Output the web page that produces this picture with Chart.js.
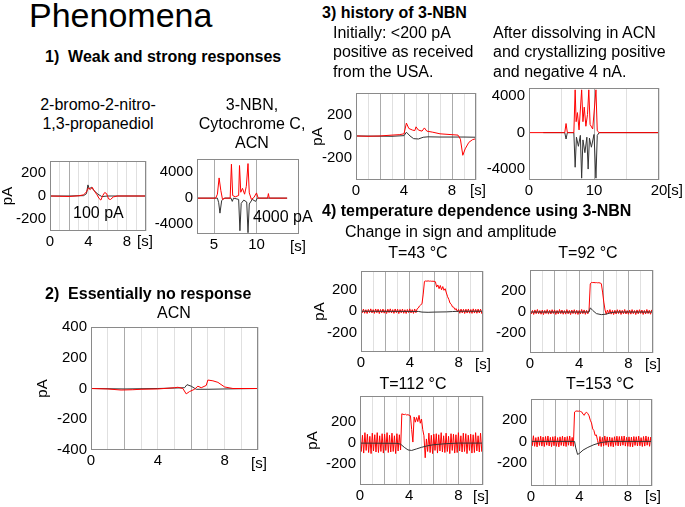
<!DOCTYPE html>
<html>
<head>
<meta charset="utf-8">
<script src="https://cdn.jsdelivr.net/npm/chart.js@4.4.1/dist/chart.umd.min.js"></script>
<style>
body { margin: 0; background: #fff; }
#page { position: relative; width: 685px; height: 507px; overflow: hidden; font-family: "Liberation Sans", Arial, sans-serif; color: #000; background: #fff; }
.t { position: absolute; white-space: pre; line-height: 1; }
.c { position: absolute; }
</style>
</head>
<body>
<div id="page"></div>
<script>
// ---- data ----
// [time s, current pA] pairs
const bromoRed = [[0,0],[1,-2],[2,-4],[3,2],[3.5,10],[3.8,35],[4.0,70],[4.2,55],[4.4,75],[4.6,45],[4.9,10],[5.1,-20],[5.3,-35],[5.5,5],[5.7,30],[5.9,20],[6.1,-25],[6.3,-30],[6.6,-8],[7,0],[10,0]];
const bromoBlack = [[0,0],[2,0],[3.5,3],[3.8,20],[3.95,95],[4.1,60],[4.3,75],[4.6,45],[5.0,15],[5.4,-5],[6,0],[10,0]];

const cytoRed = [[3,0],[5.2,0],[5.4,600],[5.6,3100],[5.8,1200],[6.0,-200],[6.3,0],[6.9,0],[7.05,5200],[7.2,400],[7.5,200],[7.9,400],[8.0,5000],[8.15,900],[8.35,1500],[8.6,600],[8.8,1800],[9.0,5300],[9.15,800],[9.4,-200],[9.7,100],[10.0,800],[10.2,0],[11.3,0],[11.4,700],[11.5,0],[13.6,0]];
const cytoBlack = [[3,0],[5.4,0],[5.55,-700],[5.7,-2300],[5.9,-400],[6.2,0],[7.0,0],[7.15,-500],[7.3,0],[7.9,-200],[8.05,-5000],[8.2,-800],[8.5,-300],[8.85,-600],[9.0,-5300],[9.15,-900],[9.5,-200],[9.9,-500],[10.1,0],[13.6,0]];

const usaRed = [[0,0],[1,-3],[2,0],[3,8],[3.6,12],[4.0,20],[4.2,120],[4.4,70],[4.7,55],[4.9,50],[5.0,85],[5.2,55],[5.5,45],[5.7,75],[5.9,45],[6.4,35],[7,20],[8,12],[8.5,8],[8.7,-30],[8.9,-180],[9.1,-120],[9.4,-60],[9.7,-35],[10,-25]];
const usaBlack = [[0,0],[3,-3],[4.0,3],[4.2,35],[4.5,0],[4.8,-25],[5.2,-28],[5.6,-12],[6,-8],[7,-10],[9,-10],[10,-12]];

const acnRed = [[0,0],[5.5,0],[5.7,1000],[5.9,0],[6.9,0],[7.1,4700],[7.25,1200],[7.45,2200],[7.7,300],[8.1,4700],[8.3,1200],[8.5,2800],[8.75,700],[9.0,2000],[9.2,4700],[9.4,900],[9.8,400],[10.3,4700],[10.5,200],[10.8,0],[20,0]];
const acnBlack = [[2.2,0],[5.5,0],[5.7,-700],[5.9,0],[6.9,0],[7.1,-3800],[7.3,-500],[7.6,-1500],[7.9,-300],[8.1,-5000],[8.3,-800],[8.6,-2200],[8.9,-500],[9.1,-4000],[9.3,-600],[9.6,-1600],[10.0,-200],[10.3,-5000],[10.5,-300],[10.8,0],[20,0]];

const noRespRed = [[0,0],[1,-3],[1.8,-10],[2.5,-8],[3,-5],[4,-3],[5,5],[5.2,8],[5.5,0],[5.7,-35],[5.9,-20],[6.2,-5],[6.4,15],[6.6,5],[6.9,20],[7.0,55],[7.3,50],[7.6,40],[8,10],[8.5,0],[10,0]];
const noRespBlack = [[0,0],[2,-3],[4,0],[5,3],[5.6,5],[5.75,25],[6.0,15],[6.3,-5],[7,-5],[8,-3],[10,0]];

// temperature runs share one time base (s)
const tempTime = [
  0,0.1,0.2,0.3,0.4,0.5,0.6,0.7,0.8,0.9,
  1,1.1,1.2,1.3,1.4,1.5,1.6,1.7,1.8,1.9,
  2,2.1,2.2,2.3,2.4,2.5,2.6,2.7,2.8,2.9,
  3,3.1,3.2,3.3,3.4,3.5,3.6,3.7,3.8,3.9,
  4,4.1,4.2,4.3,4.4,4.5,4.6,4.7,4.8,4.9,
  5,5.1,5.2,5.3,5.4,5.5,5.6,5.7,5.8,5.9,
  6,6.1,6.2,6.3,6.4,6.5,6.6,6.7,6.8,6.9,
  7,7.1,7.2,7.3,7.4,7.5,7.6,7.7,7.8,7.9,
  8,8.1,8.2,8.3,8.4,8.5,8.6,8.7,8.8,8.9,
  9,9.1,9.2,9.3,9.4,9.5,9.6,9.7,9.8,9.9,
  10
];
const t43Red = [
  18,-15,20,-19,14,-21,17,-13,22,-16,
  15,-20,21,-14,19,-22,16,-15,20,-18,
  14,-21,19,-13,22,-16,15,-20,21,-14,
  19,-22,16,-15,20,-19,14,-21,17,-13,
  22,-16,15,-20,21,-14,22,30,50,60,
  70,160,278,282,280,283,280,281,279,280,
  278,275,225,245,210,240,200,230,195,210,
  170,135,110,75,65,40,38,15,25,-5,
  17,-19,20,-16,18,-21,19,-17,21,-18,
  16,-20,22,-17,18,-19,20,-16,19,-21,
  17
];
const t43Black = [[0,0],[4.7,-2],[5,-8],[5.5,-10],[6,-8],[7,-6],[7.5,-3],[8,0],[10,0]];

const t92Red = [
  22,-18,15,-23,20,-16,24,-17,14,-21,
  19,-24,16,-15,23,-20,17,-19,22,-14,
  20,-23,15,-19,24,-16,19,-21,14,-20,
  23,-17,16,-24,19,-15,22,-20,17,-23,
  15,-19,24,-16,20,-22,16,-17,19,268,
  282,280,281,279,280,278,279,276,270,190,
  95,20,-21,19,-16,23,-20,15,-24,17,
  -19,22,-15,20,-23,16,-17,24,-19,14,
  -21,19,-20,23,-16,15,-24,20,-17,22,
  -14,19,-23,16,-19,24,-15,17,-21,20,
  -16
];
const t92Black = [[0,0],[4.8,0],[4.9,40],[5.1,15],[5.4,-15],[5.8,-25],[6.2,-20],[6.6,-5],[7,0],[10,0]];

const t112Red = [
  90,-80,75,-95,100,-70,85,-90,65,-100,
  95,-75,80,-85,100,-90,70,-80,90,-95,
  85,-70,100,-90,75,-85,95,-80,70,-100,
  90,-75,80,-65,280,275,272,276,268,272,
  265,262,130,10,250,200,245,205,265,190,
  230,130,70,-140,40,-80,95,-90,75,-100,
  85,-70,90,-95,80,-75,100,-85,70,-90,
  95,-80,65,-100,90,-70,85,-95,80,-90,
  100,-75,70,-85,95,-80,90,-100,75,-70,
  85,-95,80,-90,100,-75,70,-85,95,-80,
  65
];
const t112Black = [[0,0],[3,-2],[3.3,-10],[3.6,-40],[3.9,-65],[4.2,-70],[4.6,-55],[5,-40],[5.5,-25],[6,-15],[7,-5],[8,0],[10,0]];

const t153Red = [
  45,-40,52,-45,35,-50,42,-37,48,-43,
  40,-47,45,-35,50,-42,37,-48,43,-40,
  47,-45,35,-50,42,-37,48,-43,40,-47,
  45,-35,50,-42,37,-45,270,278,280,277,
  280,275,270,250,240,262,268,255,235,195,
  170,115,100,55,60,10,-40,45,-47,37,
  -43,50,-35,42,-48,40,-45,35,-50,43,
  -37,48,-42,45,-40,47,-35,50,-43,37,
  -45,42,-48,40,-50,45,-37,43,-42,48,
  -40,35,-47,45,-43,50,-35,42,-45,40,
  -48
];
const t153Black = [[0,0],[3.6,0],[3.7,-60],[3.85,-120],[4.0,-110],[4.3,-80],[4.7,-55],[5.2,-30],[5.8,-10],[6.5,0],[10,0]];

// tick values
const pA200Ticks = [-200, 0, 200];
const pA400Ticks = [-400, -200, 0, 200, 400];
const nA4Ticks = [-4000, 0, 4000];
const sec10Grid = [0,1,2,3,4,5,6,7,8,9,10];
const sec10Labels = [0, 4, 8];
const cytoGrid = [5, 10];
const cytoLabels = [5, 10];
const sec20Grid = [0, 5, 10, 15, 20];
const sec20Labels = [0, 10, 20];

// ---- drawing ----
const page = document.getElementById('page');
const FAMILY = "'Liberation Sans', Arial, sans-serif";

function txt(str, x, cy, size, opts = {}) {
    const d = document.createElement('div');
    d.className = 't';
    d.textContent = str;
    d.style.fontSize = size + 'px';
    d.style.top = (cy - size / 2) + 'px';
    d.style.left = x + 'px';
    if (opts.bold) d.style.fontWeight = 'bold';
    if (opts.center) d.style.transform = 'translateX(-50%)';
    page.appendChild(d);
}

const pairs = arr => arr.map(p => ({x: p[0], y: p[1]}));
const onTime = ys => ys.map((y, i) => ({x: tempTime[i], y: y}));

const frame = {
    id: 'frame',
    afterDraw(chart) {
        const {ctx, chartArea: a} = chart;
        ctx.save();
        ctx.strokeStyle = '#8a8a8a';
        ctx.lineWidth = 1;
        ctx.strokeRect(a.left + 0.5, a.top + 0.5, a.right - a.left - 1, a.bottom - a.top - 1);
        ctx.restore();
    }
};

function makeChart(c) {
    const wy = c.wy || 45, padT = 10, padR = 14, hx = 30;
    const [l, t, r, b] = c.box;
    const div = document.createElement('div');
    div.className = 'c';
    div.style.left = (l - wy) + 'px';
    div.style.top = (t - padT) + 'px';
    const canvas = document.createElement('canvas');
    canvas.width = wy + (r - l) + padR;
    canvas.height = padT + (b - t) + hx;
    div.appendChild(canvas);
    page.appendChild(div);

    const font = {size: 15, family: FAMILY};
    const redSet = {data: c.red, borderColor: '#ff0000', borderWidth: 1, pointRadius: 0, tension: 0};
    const blackSet = {data: c.black, borderColor: '#333', borderWidth: 1, pointRadius: 0, tension: 0};

    new Chart(canvas, {
        type: 'line',
        data: {datasets: c.blackTop ? [blackSet, redSet] : [redSet, blackSet]},
        options: {
            responsive: false,
            animation: false,
            events: [],
            layout: {padding: {top: padT, right: padR, left: 0, bottom: 0}},
            plugins: {legend: {display: false}, tooltip: {enabled: false}},
            scales: {
                x: {
                    type: 'linear',
                    min: c.xMin,
                    max: c.xMax,
                    afterBuildTicks: s => { s.ticks = c.xGrid.map(v => ({value: v})); },
                    afterFit: s => { s.height = hx; s.paddingLeft = 0; s.paddingRight = 0; },
                    grid: {
                        drawTicks: false,
                        lineWidth: 1,
                        color: ctx => (c.dark.includes(ctx.tick.value) ? '#ababab' : '#e0e0e0')
                    },
                    border: {display: false},
                    ticks: {
                        padding: 2,
                        autoSkip: false,
                        maxRotation: 0,
                        font: font,
                        color: '#000',
                        callback: v => (c.xLabels.includes(v) ? String(v) : '')
                    }
                },
                y: {
                    min: c.yMin,
                    max: c.yMax,
                    afterBuildTicks: s => { s.ticks = c.yTicks.map(v => ({value: v})); },
                    afterFit: s => { s.width = wy; s.paddingTop = 0; s.paddingBottom = 0; },
                    grid: {display: false, drawTicks: false},
                    border: {display: false},
                    ticks: {padding: 4, font: font, color: '#000', callback: v => String(v)},
                    title: {display: !!c.pA, text: 'pA', font: font, color: '#000', padding: 0}
                }
            }
        },
        plugins: [frame]
    });
}

const charts = [
    {box: [50, 161, 146, 231], wy: 51, pA: true, xMin: 0, xMax: 10, yMin: -300, yMax: 300,
     xGrid: sec10Grid, xLabels: sec10Labels, yTicks: pA200Ticks, dark: [2],
     red: pairs(bromoRed), black: pairs(bromoBlack)},
    {box: [197, 159, 299, 234], xMin: 3, xMax: 15, yMin: -5500, yMax: 6000,
     xGrid: cytoGrid, xLabels: cytoLabels, yTicks: nA4Ticks, dark: [5, 10],
     red: pairs(cytoRed), black: pairs(cytoBlack)},
    {box: [356, 93, 476, 180], wy: 47, pA: true, xMin: 0, xMax: 10, yMin: -410, yMax: 400,
     xGrid: sec10Grid, xLabels: sec10Labels, yTicks: pA200Ticks, dark: [2, 4, 6, 8],
     red: pairs(usaRed), black: pairs(usaBlack)},
    {box: [529, 88, 659, 180], xMin: 0, xMax: 20, yMin: -5200, yMax: 4900,
     xGrid: sec20Grid, xLabels: sec20Labels, yTicks: nA4Ticks, dark: [10],
     red: pairs(acnRed), black: pairs(acnBlack)},
    {box: [91, 327, 258, 450], wy: 57, pA: true, xMin: 0, xMax: 10, yMin: -400, yMax: 400,
     xGrid: sec10Grid, xLabels: sec10Labels, yTicks: pA400Ticks, dark: [2, 6],
     red: pairs(noRespRed), black: pairs(noRespBlack)},
    {box: [361, 271, 483, 352], wy: 50, pA: true, xMin: 0, xMax: 10, yMin: -380, yMax: 375,
     xGrid: sec10Grid, xLabels: sec10Labels, yTicks: pA200Ticks, dark: [2, 4, 6, 8], blackTop: true,
     red: onTime(t43Red), black: pairs(t43Black)},
    {box: [530, 270, 653, 353], xMin: 0, xMax: 10, yMin: -390, yMax: 400,
     xGrid: sec10Grid, xLabels: sec10Labels, yTicks: pA200Ticks, dark: [2, 4, 6, 8], blackTop: true,
     red: onTime(t92Red), black: pairs(t92Black)},
    {box: [360, 396, 483, 485], wy: 56, pA: true, xMin: 0, xMax: 10, yMin: -400, yMax: 450,
     xGrid: sec10Grid, xLabels: sec10Labels, yTicks: pA200Ticks, dark: [2, 4, 6, 8], blackTop: true,
     red: onTime(t112Red), black: pairs(t112Black)},
    {box: [531, 399, 652, 486], xMin: 0, xMax: 10, yMin: -410, yMax: 390,
     xGrid: sec10Grid, xLabels: sec10Labels, yTicks: pA200Ticks, dark: [2, 4, 6, 8], blackTop: true,
     red: onTime(t153Red), black: pairs(t153Black)}
];
charts.forEach(makeChart);

// ---- slide text ----
txt('Phenomena', 29, 15, 34);
txt('1)  Weak and strong responses', 45, 57, 16, {bold: true});
txt('2-bromo-2-nitro-', 98, 105, 16, {center: true});
txt('1,3-propanediol', 98, 124, 16, {center: true});
txt('3-NBN,', 252, 105, 16, {center: true});
txt('Cytochrome C,', 252, 124, 16, {center: true});
txt('ACN', 252, 143, 16, {center: true});
txt('100 pA', 73, 213, 16);
txt('4000 pA', 253, 217, 16);
txt('2)  Essentially no response', 45, 294, 16, {bold: true});
txt('ACN', 174, 313, 16, {center: true});
txt('3) history of 3-NBN', 322, 13, 16, {bold: true});
txt('Initially: <200 pA', 333, 33, 16);
txt('positive as received', 333, 52, 16);
txt('from the USA.', 333, 72, 16);
txt('After dissolving in ACN', 493, 33, 16);
txt('and crystallizing positive', 493, 52, 16);
txt('and negative 4 nA.', 493, 72, 16);
txt('4) temperature dependence using 3-NBN', 322, 211, 16, {bold: true});
txt('Change in sign and amplitude', 345, 232, 16);
txt('T=43 °C', 418, 253, 16, {center: true});
txt('T=92 °C', 588, 253, 16, {center: true});
txt('T=112 °C', 413, 384, 16, {center: true});
txt('T=153 °C', 600, 384, 16, {center: true});
// time-axis units
txt('[s]', 137, 240, 15);
txt('[s]', 290, 245, 15);
txt('[s]', 470, 189, 15);
txt('[s]', 667, 189, 15);
txt('[s]', 251, 462, 15);
txt('[s]', 475, 363, 15);
txt('[s]', 645, 363, 15);
txt('[s]', 473, 495, 15);
txt('[s]', 645, 495, 15);
</script>
</body>
</html>
